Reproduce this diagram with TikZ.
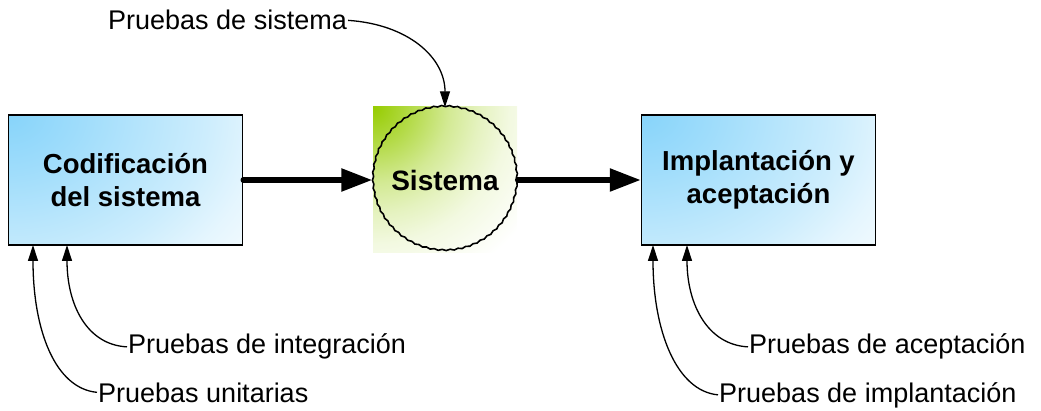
\documentclass[tikz,border=0pt]{standalone}
\usepackage{fontspec}
\setmainfont{Liberation Sans}
\usetikzlibrary{arrows.meta,decorations.pathmorphing}
\definecolor{boxblue}{RGB}{135,212,250}
\definecolor{sysgreen}{RGB}{150,204,0}
\pgfdeclareradialshading{bluefade}{\pgfpoint{0bp}{0bp}}{%
  color(0bp)=(boxblue); color(5bp)=(boxblue!80); color(10bp)=(boxblue!58);
  color(13.75bp)=(boxblue!42); color(17.5bp)=(boxblue!22); color(21.25bp)=(boxblue!8);
  color(25bp)=(white); color(50bp)=(white)}
\pgfdeclareradialshading{greenfade}{\pgfpoint{0bp}{0bp}}{%
  color(0bp)=(sysgreen); color(5bp)=(sysgreen!72); color(10bp)=(sysgreen!42);
  color(14bp)=(sysgreen!25); color(18bp)=(sysgreen!12); color(25bp)=(white); color(50bp)=(white)}
\begin{document}
\begin{tikzpicture}[x=1pt,y=-1pt,
  box/.style={draw=black, line width=1.5pt, minimum width=234pt, minimum height=130pt,
    path picture={\shade[shading=bluefade] (path picture bounding box.north west)
      ellipse [x radius=360pt, y radius=280pt];},
    font=\fontsize{27.5}{33}\selectfont\bfseries, align=center, inner sep=0pt},
  lbl/.style={font=\fontsize{27}{30}\selectfont, anchor=base west, inner sep=1pt},
  bigarrow/.style={line width=5.5pt, -{Triangle[length=31pt,width=22pt]}, line cap=round},
  thinarrow/.style={line width=1.3pt, -{Triangle[length=16pt,width=10pt]}},
  wavy/.style={line width=1.6pt, decorate, decoration={snake, segment length=8pt, amplitude=0.6pt}}]
\useasboundingbox (0,0) rectangle (1041,411);

% boxes
\node[box] (cod) at (125.5,180) {Codificación\\del sistema};
\node[box] (imp) at (758.5,180) {Implantación y\\aceptación};

% system circle with square gradient behind
\begin{scope}
  \clip (373,107) rectangle (517,253);
  \shade[shading=greenfade] (373,107) circle[radius=190pt];
\end{scope}
\node[circle, minimum size=145pt, inner sep=0pt,
      font=\fontsize{28}{33}\selectfont\bfseries] (sys) at (445,180) {Sistema};
\draw[wavy] (sys.center) circle[radius=72pt];

% main arrows
\draw[bigarrow] (cod.east) -- (sys.west);
\draw[bigarrow] (sys.east) -- (imp.west);

% labels
\node[lbl] (psis) at (107,30) {Pruebas de sistema};
\node[lbl] (pint) at (127,354) {Pruebas de integración};
\node[lbl] (puni) at (97,402) {Pruebas unitarias};
\node[lbl] (pace) at (748,354) {Pruebas de aceptación};
\node[lbl] (pimp) at (718,402) {Pruebas de implantación};

% arrow end points on boxes
\coordinate (cu) at (33,245);
\coordinate (ci) at (67,245);
\coordinate (ri) at (653,245);
\coordinate (ra) at (687,245);

% curved arrows
\draw[thinarrow] (psis.east) .. controls +(60,4) and +(0,-50) .. (sys.north);
\draw[thinarrow] (pint.west) .. controls +(-40,-2) and +(0,60) .. (ci);
\draw[thinarrow] (puni.west) .. controls +(-42,-4) and +(0,85) .. (cu);
\draw[thinarrow] (pace.west) .. controls +(-40,-2) and +(0,60) .. (ra);
\draw[thinarrow] (pimp.west) .. controls +(-42,-4) and +(0,85) .. (ri);
\end{tikzpicture}
\end{document}
